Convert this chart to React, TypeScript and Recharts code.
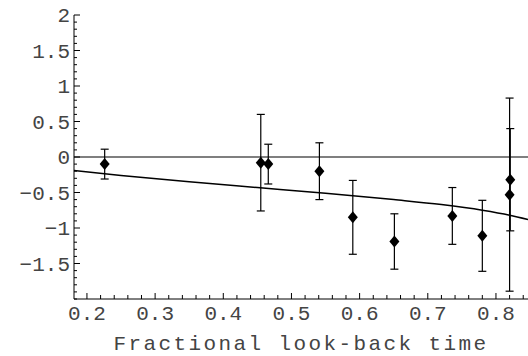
import React from "react";
import {
    ComposedChart,
    Scatter,
    Line,
    XAxis,
    YAxis,
    ErrorBar,
    ReferenceLine,
} from "recharts";

// measured points (fractional look-back time, value, 1-sigma error)
const lookback = [0.226, 0.455, 0.466, 0.541, 0.59, 0.651, 0.736, 0.78, 0.82, 0.821];
const values = [-0.1, -0.08, -0.1, -0.2, -0.85, -1.19, -0.83, -1.11, -0.53, -0.32];
const errors = [0.21, 0.68, 0.28, 0.4, 0.52, 0.39, 0.4, 0.5, 1.36, 0.72];

// model curve
const curveX = [0.181, 0.25, 0.35, 0.45, 0.55, 0.65, 0.72, 0.78, 0.82, 0.847];
const curveY = [-0.19, -0.26, -0.35, -0.43, -0.51, -0.6, -0.67, -0.75, -0.82, -0.88];

const xLabels = [0.2, 0.3, 0.4, 0.5, 0.6, 0.7, 0.8];
const yLabels = [2, 1.5, 1, 0.5, 0, -0.5, -1, -1.5];

const X_DOMAIN: [number, number] = [0.181, 0.847];
const Y_DOMAIN: [number, number] = [-2, 2];

const xTicks = Array.from({ length: 33 }, (_, i) => Math.round((0.2 + i * 0.02) * 100) / 100);
const yTicks = Array.from({ length: 41 }, (_, i) => Math.round((-2 + i * 0.1) * 10) / 10);

const points = lookback.map((x, i) => ({ x, y: values[i], err: errors[i] }));
const curve = curveX.map((x, i) => ({ x, y: curveY[i] }));

const FONT = "'Liberation Mono', 'DejaVu Sans Mono', monospace";
const TEXT = "#444";

const isMajor = (list: number[], v: number) => list.some((m) => Math.abs(m - v) < 1e-6);
const fmt = (v: number) => String(v).replace("-", "\u2212");

function BottomTick({ x, y, payload }: any) {
    const major = isMajor(xLabels, payload.value);
    return (
        <g>
            <line x1={x} x2={x} y1={y} y2={y - (major ? 6 : 4)} stroke="#000" />
            {major && (
                <text x={x} y={y + 21} textAnchor="middle" fontFamily={FONT} fontSize={21} fill={TEXT}>
                    {payload.value.toFixed(1)}
                </text>
            )}
        </g>
    );
}

function TopTick({ x, y, payload }: any) {
    const major = isMajor(xLabels, payload.value);
    return <line x1={x} x2={x} y1={y} y2={y + (major ? 6 : 4)} stroke="#000" />;
}

function LeftTick({ x, y, payload }: any) {
    const major = isMajor(yLabels, payload.value);
    return (
        <g>
            <line x1={x} x2={x + (major ? 6 : 3)} y1={y} y2={y} stroke="#000" />
            {major && (
                <text x={x - 4} y={y + 7} textAnchor="end" fontFamily={FONT} fontSize={21} fill={TEXT}>
                    {fmt(payload.value)}
                </text>
            )}
        </g>
    );
}

function Diamond({ cx, cy }: any) {
    if (cx == null || cy == null) return <g />;
    return (
        <polygon
            points={`${cx},${cy - 6} ${cx + 5},${cy} ${cx},${cy + 6} ${cx - 5},${cy}`}
            fill="#000"
        />
    );
}

export default function App() {
    return (
        <div style={{ position: "absolute", left: 0, top: 0, background: "#fff" }}>
            <ComposedChart width={528} height={356} margin={{ top: 15, right: 0, bottom: 0, left: 0 }}>
                <XAxis
                    dataKey="x"
                    type="number"
                    domain={X_DOMAIN}
                    allowDataOverflow
                    ticks={xTicks}
                    interval={0}
                    height={57}
                    tickSize={0}
                    tickMargin={0}
                    tickLine={false}
                    tick={<BottomTick />}
                    axisLine={{ stroke: "#000" }}
                    label={{
                        value: "Fractional look-back time",
                        position: "insideBottom",
                        offset: 6,
                        style: { fontFamily: FONT, fontSize: 21, fill: TEXT, letterSpacing: 2.4 },
                    }}
                />
                <XAxis
                    xAxisId="top"
                    orientation="top"
                    dataKey="x"
                    type="number"
                    domain={X_DOMAIN}
                    allowDataOverflow
                    ticks={xTicks}
                    interval={0}
                    height={0}
                    tickSize={0}
                    tickMargin={0}
                    tickLine={false}
                    tick={<TopTick />}
                    axisLine={{ stroke: "#000" }}
                />
                <YAxis
                    type="number"
                    domain={Y_DOMAIN}
                    allowDataOverflow
                    ticks={yTicks}
                    interval={0}
                    width={74}
                    tickSize={0}
                    tickMargin={0}
                    tickLine={false}
                    tick={<LeftTick />}
                    axisLine={{ stroke: "#000" }}
                />
                <ReferenceLine y={0} stroke="#000" strokeWidth={1.2} ifOverflow="hidden" />
                <Line
                    data={curve}
                    dataKey="y"
                    type="monotone"
                    stroke="#000"
                    strokeWidth={1.5}
                    dot={false}
                    activeDot={false}
                    isAnimationActive={false}
                />
                <Scatter data={points} dataKey="y" shape={<Diamond />} isAnimationActive={false}>
                    <ErrorBar dataKey="err" direction="y" width={4} stroke="#000" strokeWidth={1.2} isAnimationActive={false} />
                </Scatter>
            </ComposedChart>
        </div>
    );
}
